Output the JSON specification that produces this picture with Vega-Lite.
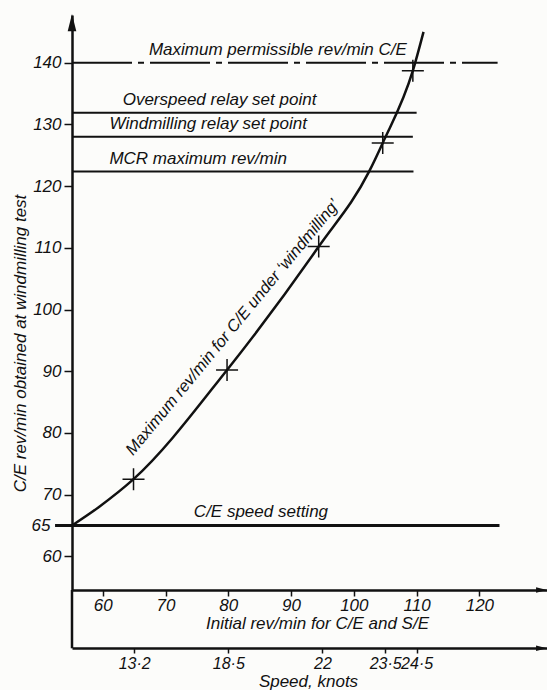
{
  "$schema": "https://vega.github.io/schema/vega-lite/v6.json",
  "width": 475,
  "height": 575,
  "autosize": "none",
  "padding": {"left": 72, "top": 15, "right": 0, "bottom": 100},
  "background": "#fcfcfa",
  "config": {
    "view": {"stroke": null},
    "font": "Liberation Sans",
    "axis": {
      "grid": false,
      "domainColor": "#111",
      "tickColor": "#111",
      "labelColor": "#111",
      "titleColor": "#111",
      "labelFont": "Liberation Sans",
      "titleFont": "Liberation Sans",
      "labelFontStyle": "italic",
      "titleFontStyle": "italic",
      "titleFontWeight": "normal",
      "labelFontSize": 17,
      "titleFontSize": 17
    }
  },
  "datasets": {
    "curve": [
      {"rev": 55.1, "val": 65},
      {"rev": 59.4, "val": 68},
      {"rev": 64.9, "val": 72.5},
      {"rev": 79.8, "val": 90.2},
      {"rev": 94.4, "val": 110.2},
      {"rev": 102.4, "val": 122.3},
      {"rev": 104.6, "val": 127},
      {"rev": 109.4, "val": 138.7},
      {"rev": 111.1, "val": 145}
    ],
    "crosses": [
      {"rev": 64.9, "val": 72.5},
      {"rev": 79.8, "val": 90.2},
      {"rev": 94.4, "val": 110.2},
      {"rev": 104.6, "val": 127},
      {"rev": 109.4, "val": 138.7}
    ],
    "levels": [
      {"label": "Maximum permissible rev/min C/E", "val": 140, "from": 55.1, "to": 122.9, "label_rev": 87.9},
      {"label": "Overspeed relay set point", "val": 131.9, "from": 55.1, "to": 110.0, "label_rev": 78.6},
      {"label": "Windmilling relay set point", "val": 128.0, "from": 55.1, "to": 109.4, "label_rev": 76.8},
      {"label": "MCR maximum rev/min", "val": 122.35, "from": 55.1, "to": 109.5, "label_rev": 75.2},
      {"label": "C/E speed setting", "val": 65, "from": 52.4, "to": 123.2, "label_rev": 85.2}
    ],
    "notes": [
      {"text": "Maximum rev/min for C/E under ‘windmilling’", "rev": 80.7, "val": 97.1}
    ],
    "yext": [{"rev": 55.1, "v1": 54.54, "v2": 45.09}],
    "yarrow": [{"rev": 55.1, "val": 146.5}],
    "xarrows": [{"rev": 129.9, "val": 54.54}, {"rev": 129.9, "val": 45.09}]
  },
  "resolve": {"axis": {"x": "independent", "y": "independent"}},
  "layer": [
    {
      "data": {"name": "curve"},
      "mark": {"type": "line", "interpolate": "monotone", "color": "#111", "strokeWidth": 2.5},
      "encoding": {
        "x": {
          "field": "rev", "type": "quantitative",
          "scale": {"domain": [55.1, 130.77], "nice": false, "zero": false},
          "axis": {
            "orient": "bottom",
            "values": [60, 70, 80, 90, 100, 110, 120],
            "title": "Initial rev/min for C/E and S/E",
            "tickSize": 6, "tickWidth": 1.5, "domainWidth": 2.5,
            "labelPadding": 1, "titlePadding": 2, "labelFlush": false, "labelOverlap": false,
            "titleX": 245
          }
        },
        "y": {
          "field": "val", "type": "quantitative",
          "scale": {"domain": [54.54, 147.73], "nice": false, "zero": false},
          "axis": {
            "orient": "left",
            "values": [60, 65, 70, 80, 90, 100, 110, 120, 130, 140],
            "title": "C/E rev/min obtained at windmilling test",
            "tickSize": 8, "tickWidth": 1.5, "domainWidth": 2.5,
            "labelOverlap": false, "labelFlush": false,
            "labelPadding": {"condition": {"test": "datum.value == 65", "value": 14}, "value": 3},
            "titleX": -52, "titleY": 328, "titleAngle": -90,
            "titleAlign": "center", "titleBaseline": "middle"
          }
        }
      }
    },
    {
      "data": {"name": "crosses"},
      "mark": {"type": "point", "shape": "M-1,0L1,0M0,-1L0,1", "size": 484, "filled": false, "stroke": "#111", "strokeWidth": 1.5, "opacity": 1},
      "encoding": {
        "x": {"field": "rev", "type": "quantitative", "axis": null},
        "y": {"field": "val", "type": "quantitative", "axis": null}
      }
    },
    {
      "data": {"name": "levels"},
      "transform": [{"filter": "datum.val == 140"}],
      "mark": {"type": "rule", "color": "#111", "strokeWidth": 2, "strokeDash": [60, 6, 6, 6]},
      "encoding": {
        "x": {"field": "from", "type": "quantitative", "axis": null},
        "x2": {"field": "to"},
        "y": {"field": "val", "type": "quantitative", "axis": null}
      }
    },
    {
      "data": {"name": "levels"},
      "transform": [{"filter": "datum.val != 140 && datum.val != 65"}],
      "mark": {"type": "rule", "color": "#111", "strokeWidth": 2},
      "encoding": {
        "x": {"field": "from", "type": "quantitative", "axis": null},
        "x2": {"field": "to"},
        "y": {"field": "val", "type": "quantitative", "axis": null}
      }
    },
    {
      "data": {"name": "levels"},
      "transform": [{"filter": "datum.val == 65"}],
      "mark": {"type": "rule", "color": "#111", "strokeWidth": 3},
      "encoding": {
        "x": {"field": "from", "type": "quantitative", "axis": null},
        "x2": {"field": "to"},
        "y": {"field": "val", "type": "quantitative", "axis": null}
      }
    },
    {
      "data": {"name": "levels"},
      "mark": {"type": "text", "align": "center", "baseline": "alphabetic", "dy": -8, "fontSize": 17, "fontStyle": "italic", "font": "Liberation Sans", "color": "#111"},
      "encoding": {
        "x": {"field": "label_rev", "type": "quantitative", "axis": null},
        "y": {"field": "val", "type": "quantitative", "axis": null},
        "text": {"field": "label"}
      }
    },
    {
      "data": {"name": "notes"},
      "mark": {"type": "text", "align": "center", "baseline": "middle", "angle": -50.5, "fontSize": 16.5, "fontStyle": "italic", "font": "Liberation Sans", "color": "#111"},
      "encoding": {
        "x": {"field": "rev", "type": "quantitative", "axis": null},
        "y": {"field": "val", "type": "quantitative", "axis": null},
        "text": {"field": "text"}
      }
    },
    {
      "data": {"name": "yext"},
      "mark": {"type": "rule", "color": "#111", "strokeWidth": 2.5},
      "encoding": {
        "x": {"field": "rev", "type": "quantitative", "axis": null},
        "y": {"field": "v1", "type": "quantitative", "axis": null},
        "y2": {"field": "v2"}
      }
    },
    {
      "data": {"name": "yarrow"},
      "mark": {"type": "point", "shape": "M0,-1L0.5,1L-0.5,1Z", "size": 300, "filled": true, "color": "#111", "opacity": 1},
      "encoding": {
        "x": {"field": "rev", "type": "quantitative", "axis": null},
        "y": {"field": "val", "type": "quantitative", "axis": null}
      }
    },
    {
      "data": {"name": "xarrows"},
      "mark": {"type": "point", "shape": "M1,0L-1,-0.5L-1,0.5Z", "size": 121, "filled": true, "color": "#111", "opacity": 1},
      "encoding": {
        "x": {
          "field": "rev", "type": "quantitative",
          "axis": {
            "orient": "bottom",
            "offset": 58,
            "values": [65, 80, 95, 105, 110],
            "labelExpr": "datum.value == 65 ? '13·2' : datum.value == 80 ? '18·5' : datum.value == 95 ? '22' : datum.value == 105 ? '23·5' : '24·5'",
            "labelFontSize": 16,
            "title": "Speed, knots",
            "tickSize": 5, "tickWidth": 1.5, "domainWidth": 2.5,
            "labelPadding": 2, "titlePadding": 2, "labelFlush": false, "labelOverlap": false,
            "titleX": 236
          }
        },
        "y": {"field": "val", "type": "quantitative", "axis": null}
      }
    }
  ]
}
